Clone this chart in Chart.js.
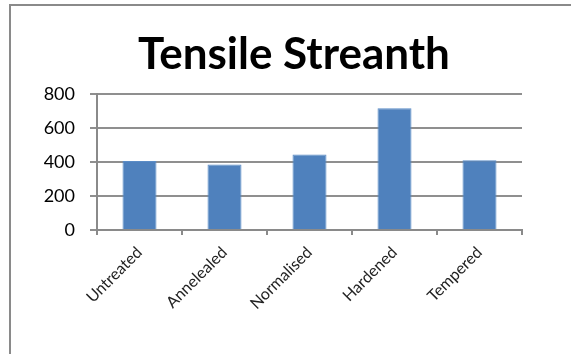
<!DOCTYPE html>
<html>
<head>
<meta charset="utf-8">
<script src="https://cdn.jsdelivr.net/npm/chart.js@4"></script>
<style>
  html, body { margin: 0; padding: 0; background: #fff; overflow: hidden; }
  #frame { position: absolute; left: 9px; top: 4px; width: 700px; height: 500px; border: 2px solid #8a8a8a; }
  #myChart { position: absolute; left: 0; top: 0; }
</style>
</head>
<body>
<div id="frame"></div>
<canvas id="myChart" width="571" height="354"></canvas>
<script>
var treatments = ['Untreated', 'Annelealed', 'Normalised', 'Hardened', 'Tempered'];
var strength = [405, 385, 443, 715, 410];
var yTicks = [0, 200, 400, 600, 800];

var ctx = document.getElementById('myChart').getContext('2d');
var myChart = new Chart(ctx, {
	type: 'bar',
	data: {
		labels: treatments,
		datasets: [{
			label: 'Tensile Streanth',
			data: strength,
			backgroundColor: '#4F81BD',
			borderColor: '#5b8cc6',
			borderWidth: 1,
			categoryPercentage: 1,
			barPercentage: 0.4
		}]
	},
	options: {
		responsive: false,
		animation: false,
		layout: { padding: { left: 36, right: 19, top: 28, bottom: 0 } },
		plugins: {
			legend: { display: false },
			tooltip: { enabled: false },
			title: {
				display: true,
				text: 'Tensile Streanth',
				color: '#000',
				font: { family: 'Lato', size: 44, weight: 'bold' },
				padding: { top: 0, bottom: 13 }
			}
		},
		scales: {
			x: {
				grid: { drawOnChartArea: false, drawTicks: true, tickLength: 5, color: '#8a8a8a', lineWidth: 2 },
				border: { color: '#8a8a8a', width: 2 },
				ticks: {
					color: '#222',
					font: { family: 'Lato', size: 16 },
					maxRotation: 45,
					minRotation: 45,
					padding: 8
				},
				afterFit: function(scale) { scale.height = 124; }
			},
			y: {
				min: 0,
				max: 800,
				afterBuildTicks: function(scale) {
					scale.ticks = yTicks.map(function(v) { return { value: v }; });
				},
				grid: { color: '#8f8f8f', lineWidth: 2, tickLength: 7 },
				border: { color: '#8a8a8a', width: 2 },
				ticks: {
					color: '#000',
					font: { family: 'Lato', size: 18 },
					padding: 15
				},
				afterFit: function(scale) { scale.width = 61; }
			},
			// empty spacer on the right so the title sits centred over the bars
			spacer: {
				type: 'linear',
				position: 'right',
				grid: { display: false },
				border: { display: false },
				ticks: { display: false },
				afterFit: function(scale) { scale.width = 30; }
			}
		}
	}
});
</script>
</body>
</html>
